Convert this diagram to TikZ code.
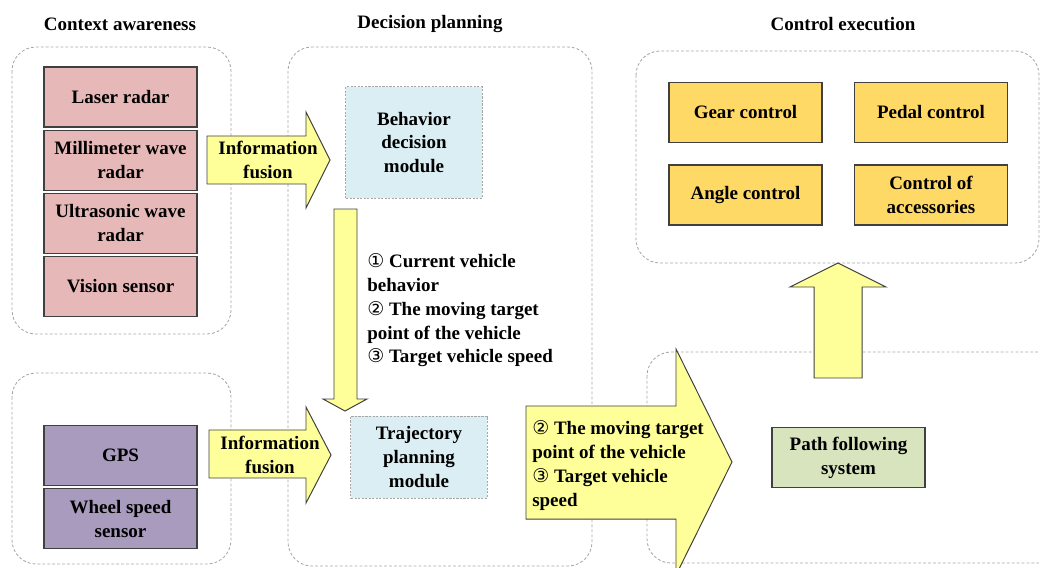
\documentclass[tikz,border=0pt]{standalone}
\usepackage{fontspec}
\setmainfont{Liberation Serif}
\newfontfamily\circfont{DejaVu Sans}
\usepackage{tikz}
\usetikzlibrary{
    positioning,
    calc
}
\definecolor{sensorPink}{RGB}{230, 185, 184}
\definecolor{sensorPurple}{RGB}{169, 155, 190}
\definecolor{moduleBlue}{RGB}{219, 238, 244}
\definecolor{arrowYellow}{RGB}{255, 255, 153}
\definecolor{ctrlGold}{RGB}{255, 217, 102}
\definecolor{pathGreen}{RGB}{215, 228, 189}
\definecolor{frameGray}{RGB}{166, 166, 166}
\definecolor{edgeGray}{RGB}{64, 64, 64}

\begin{document}
\begin{tikzpicture}[x=0.025cm, y=-0.025cm,
        font=\fontsize{13.5}{17}\selectfont\bfseries,
        frame/.style={draw=frameGray, dash pattern=on 2pt off 1.5pt, line width=0.6pt, rounded corners=0.6cm},
        unit/.style={draw=edgeGray, line width=0.8pt, align=center, inner sep=2pt,
            minimum width=3.825cm, minimum height=1.5cm},
        module/.style={draw=frameGray, dash pattern=on 1.5pt off 1pt, line width=0.7pt, fill=moduleBlue,
            align=center, minimum width=3.4cm},
        fat/.style={draw=edgeGray, line width=0.7pt, fill=arrowYellow, line join=miter},
        note/.style={align=left, inner sep=0pt, anchor=north west}]
        \useasboundingbox (0,0) rectangle (1040,567);
        \clip (0,0) rectangle (1040,567);

        % titles
        \node (ctxTitle) at (120,24) {Context awareness};
        \node (planTitle) at (430,24) {Decision planning};
        \node (ctrlTitle) at (843,24) {Control execution};

        % dashed frames
        \draw[frame] (12,47) rectangle (231,334);
        \draw[frame] (12,373) rectangle (231,564);
        \draw[frame] (288,47) rectangle (592,566);
        \draw[frame] (636,51) rectangle (1039,263);
        \draw[frame] (647,352) rectangle (1070,563);

        % sensors
        \node[unit, fill=sensorPink] (laser) at (120.5,97) {Laser radar};
        \node[unit, fill=sensorPink, below=0.05cm of laser] (mmwave) {Millimeter wave\\radar};
        \node[unit, fill=sensorPink, below=0.05cm of mmwave] (ultra) {Ultrasonic wave\\radar};
        \node[unit, fill=sensorPink, below=0.05cm of ultra] (vision) {Vision sensor};
        \node[unit, fill=sensorPurple] (gps) at (120.5,455.5) {GPS};
        \node[unit, fill=sensorPurple, below=0.05cm of gps] (wheel) {Wheel speed\\sensor};

        % planning modules
        \node[module, minimum height=2.775cm] (behavior) at (414,142.5) {Behavior\\decision\\module};
        \node[module, minimum height=2.05cm] (trajectory) at (419,457) {Trajectory\\planning\\module};

        % control units
        \node[unit, fill=ctrlGold] (gear) at (745.5,112.5) {Gear control};
        \node[unit, fill=ctrlGold] (pedal) at (931,112.5) {Pedal control};
        \node[unit, fill=ctrlGold] (angle) at (745.5,195) {Angle control};
        \node[unit, fill=ctrlGold] (accessory) at (931,195) {Control of\\accessories};
        \node[unit, fill=pathGreen] (follow) at (848.5,457.5) {Path following\\system};

        % block arrows
        \draw[fat] (207,136) -- (306,136) -- (306,112) -- (330,160) -- (306,208) -- (306,184) -- (207,184) -- cycle;
        \node[align=center] (fusionTop) at (268,160) {Information\\fusion};
        \draw[fat] (209,430) -- (306,430) -- (306,407) -- (331,455) -- (306,503) -- (306,478) -- (209,478) -- cycle;
        \node[align=center] (fusionBot) at (270,455) {Information\\fusion};

        \draw[fat] (334,209) -- (357,209) -- (357,399) -- (367,399) -- (345,411) -- (323,399) -- (334,399) -- cycle;
        \node[note] (planOut) at (367,253) {{\circfont\mdseries ①} Current vehicle\\behavior\\{\circfont\mdseries ②} The moving target\\point of the vehicle\\{\circfont\mdseries ③} Target vehicle speed};

        \draw[fat] (526,406) -- (676,406) -- (676,349) -- (732,462) -- (676,575) -- (676,519) -- (526,519) -- cycle;
        \node[note] (trackOut) at (532,420) {{\circfont\mdseries ②} The moving target\\point of the vehicle\\{\circfont\mdseries ③} Target vehicle\\speed};

        \draw[fat] (814,378) -- (814,287) -- (790,287) -- (838,263) -- (886,287) -- (862,287) -- (862,378) -- cycle;
    \end{tikzpicture}
\end{document}
